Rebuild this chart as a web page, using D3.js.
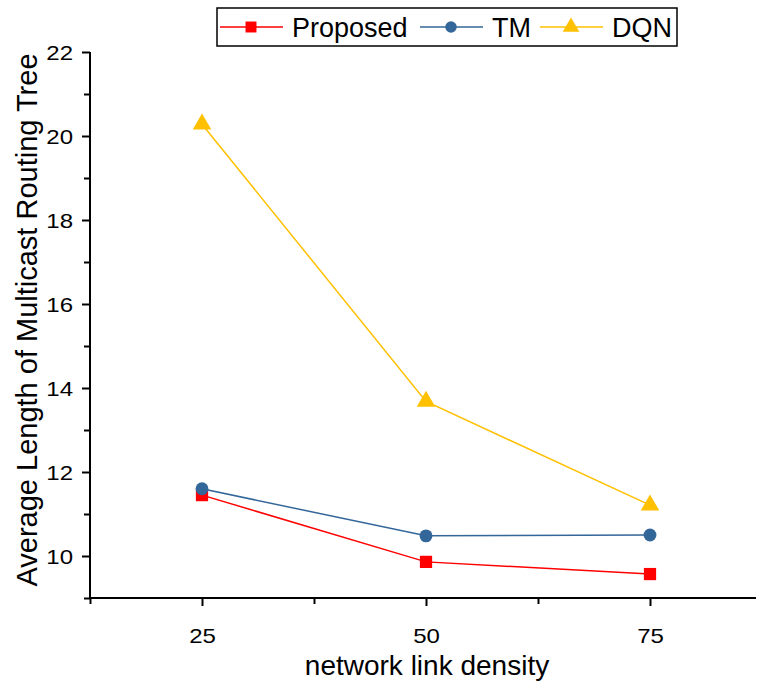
<!DOCTYPE html>
<html>
<head>
<meta charset="utf-8">
<script src="https://cdn.jsdelivr.net/npm/d3@7"></script>
<style>
  body { margin: 0; background: #fff; }
  text { font-family: "Liberation Sans", Arial, sans-serif; }
</style>
</head>
<body>
<div id="chart"></div>
<script>
// data
const density = [25, 50, 75];
const proposed = [11.45, 9.86, 9.57];
const tm = [11.6, 10.48, 10.5];
const dqn = [20.28, 13.68, 11.21];
const yTicks = [10, 12, 14, 16, 18, 20, 22];

const series = [
  { name: 'Proposed', values: proposed, color: '#ff0000', shape: d3.symbolSquare, size: 150 },
  { name: 'TM', values: tm, color: '#336699', shape: d3.symbolCircle, size: 130 },
  { name: 'DQN', values: dqn, color: '#ffc000', shape: d3.symbolTriangle, size: 150 }
];

const W = 758, H = 689;
const margin = { left: 90, top: 52, bottom: 91 };

const svg = d3.select('#chart').append('svg')
  .attr('width', W)
  .attr('height', H);

const x = d3.scaleLinear().domain([12.5, 87.5]).range([margin.left, margin.left + 672]);
const y = d3.scaleLinear().domain([9, 22]).range([H - margin.bottom, margin.top]);

// x axis
const xAxis = svg.append('g')
  .attr('transform', `translate(0,${H - margin.bottom})`)
  .call(d3.axisBottom(x).tickValues([12.5, 25, 37.5, 50, 62.5, 75]).tickSize(8).tickFormat(''));
xAxis.select('.domain').attr('stroke-width', 2).attr('d', `M${margin.left},0H${W - 2}`);
xAxis.selectAll('.tick line').attr('stroke-width', 2)
  .attr('y2', d => (d % 25 === 0 ? 8 : 6));
xAxis.selectAll('.tick')
  .filter(d => d % 25 === 0)
  .append('text')
  .attr('transform', 'translate(0,45) scale(1.2,1)')
  .attr('fill', '#000')
  .attr('text-anchor', 'middle')
  .style('font-size', '20px')
  .text(d => d);

// y axis
const yAxis = svg.append('g')
  .attr('transform', `translate(${margin.left},0)`)
  .call(d3.axisLeft(y).tickValues(d3.range(9, 23)).tickSize(8).tickFormat(''));
yAxis.select('.domain').attr('stroke-width', 2).attr('d', `M0,${y(9)}V${y(22)}`);
yAxis.selectAll('.tick line').attr('stroke-width', 2)
  .attr('x2', d => (yTicks.includes(d) ? -8 : -6));
yAxis.selectAll('.tick')
  .filter(d => yTicks.includes(d))
  .append('text')
  .attr('transform', 'translate(-17,0) scale(1.2,1)')
  .attr('dy', '0.35em')
  .attr('fill', '#000')
  .attr('text-anchor', 'end')
  .style('font-size', '20px')
  .text(d => d);

// axis titles
svg.append('text')
  .attr('x', 427)
  .attr('y', 675)
  .attr('text-anchor', 'middle')
  .style('font-size', '28px')
  .text('network link density');

svg.append('text')
  .attr('transform', `translate(37,${(y(9) + y(22)) / 2 - 5}) rotate(-90)`)
  .attr('text-anchor', 'middle')
  .style('font-size', '29px')
  .text('Average Length of Multicast Routing Tree');

// lines and markers
const line = d3.line()
  .x((d, i) => x(density[i]))
  .y(d => y(d));

series.forEach(s => {
  svg.append('path')
    .datum(s.values)
    .attr('fill', 'none')
    .attr('stroke', s.color)
    .attr('stroke-width', 1.5)
    .attr('d', line);
  svg.selectAll(null)
    .data(s.values)
    .enter()
    .append('path')
    .attr('transform', (d, i) => `translate(${x(density[i])},${y(d)})`)
    .attr('d', d3.symbol().type(s.shape).size(s.size))
    .attr('fill', s.color);
});

// legend
const legend = svg.append('g');
legend.append('rect')
  .attr('x', 217).attr('y', 8)
  .attr('width', 460).attr('height', 38)
  .attr('fill', '#fff')
  .attr('stroke', '#000')
  .attr('stroke-width', 1.5);

const legendX = [220, 420, 540];
series.forEach((s, i) => {
  const g = legend.append('g').attr('transform', `translate(${legendX[i]},27)`);
  g.append('line')
    .attr('x1', 0).attr('x2', 63)
    .attr('stroke', s.color)
    .attr('stroke-width', 1.5);
  g.append('path')
    .attr('transform', 'translate(31,0)')
    .attr('d', d3.symbol().type(s.shape).size(s.size * 0.8))
    .attr('fill', s.color);
  g.append('text')
    .attr('x', 72)
    .attr('dy', '0.36em')
    .style('font-size', '27px')
    .text(s.name);
});
</script>
</body>
</html>
